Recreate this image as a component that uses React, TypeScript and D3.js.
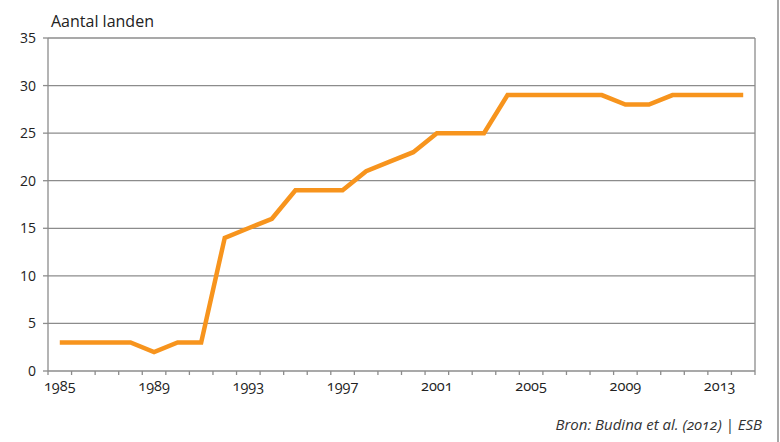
import React from "react";
import * as d3 from "d3";

const years: number[] = [1985,1986,1987,1988,1989,1990,1991,1992,1993,1994,1995,1996,1997,1998,1999,2000,2001,2002,2003,2004,2005,2006,2007,2008,2009,2010,2011,2012,2013,2014];
const countries: number[] = [3,3,3,3,2,3,3,14,15,16,19,19,19,21,22,23,25,25,25,29,29,29,29,29,28,28,29,29,29,29];
const yTicks: number[] = [0,5,10,15,20,25,30,35];
const xLabelYears: number[] = [1985,1989,1993,1997,2001,2005,2009,2013];

const W = 780, H = 442;
const left = 48, right = 755, top = 38, bottom = 371;
const font = "'Open Sans', 'Noto Sans', sans-serif";

export default function App() {
  const x = d3.scaleBand<number>().domain(years).range([left, right]).paddingInner(0).paddingOuter(0);
  const y = d3.scaleLinear().domain([0, 35]).range([bottom, top]);
  const line = d3.line<number>()
    .x((_, i) => (x(years[i]) as number) + x.bandwidth() / 2)
    .y((d) => y(d));
  const tickXs = years.map((yr) => x(yr) as number).concat([right]);
  const numStyle = { fontVariantNumeric: "oldstyle-nums" } as React.CSSProperties;
  return (
    <svg width={W} height={H} style={{ position: "absolute", left: 0, top: 0, background: "#fff" }}>
      <line x1={778} x2={778} y1={0} y2={H} stroke="#8a8a8a" strokeWidth={1.5} />
      {yTicks.map((t) => (
        <g key={t}>
          {t > 0 && <line x1={left} x2={right} y1={y(t)} y2={y(t)} stroke="#8c8c8c" strokeWidth={1.3} />}
          <line x1={left - 5} x2={left} y1={y(t)} y2={y(t)} stroke="#8c8c8c" strokeWidth={1.3} />
          <text x={36} y={y(t) + 5} textAnchor="end" fontFamily={font} fontSize={14} fill="#222">{t}</text>
        </g>
      ))}
      <line x1={left} x2={left} y1={top} y2={bottom} stroke="#8c8c8c" strokeWidth={1.3} />
      <line x1={right} x2={right} y1={top} y2={bottom} stroke="#8c8c8c" strokeWidth={1.3} />
      <line x1={left} x2={right} y1={bottom} y2={bottom} stroke="#8c8c8c" strokeWidth={1.3} />
      {tickXs.map((tx, i) => (
        <line key={i} x1={tx} x2={tx} y1={bottom} y2={bottom + 4} stroke="#8c8c8c" strokeWidth={1.3} />
      ))}
      {xLabelYears.map((yr) => (
        <text key={yr} x={(x(yr) as number) + x.bandwidth() / 2} y={391} textAnchor="middle" fontFamily={font} fontSize={14.5} fill="#222" style={numStyle}>{yr}</text>
      ))}
      <path d={line(countries) || ""} fill="none" stroke="#F7941D" strokeWidth={4.5} strokeLinejoin="miter" />
      <text x={51} y={27} fontFamily={font} fontSize={16} fill="#222">Aantal landen</text>
      <text x={762} y={430} textAnchor="end" fontFamily={font} fontSize={15} fontStyle="italic" fill="#333" style={numStyle}>Bron: Budina et al. (2012) | ESB</text>
    </svg>
  );
}
